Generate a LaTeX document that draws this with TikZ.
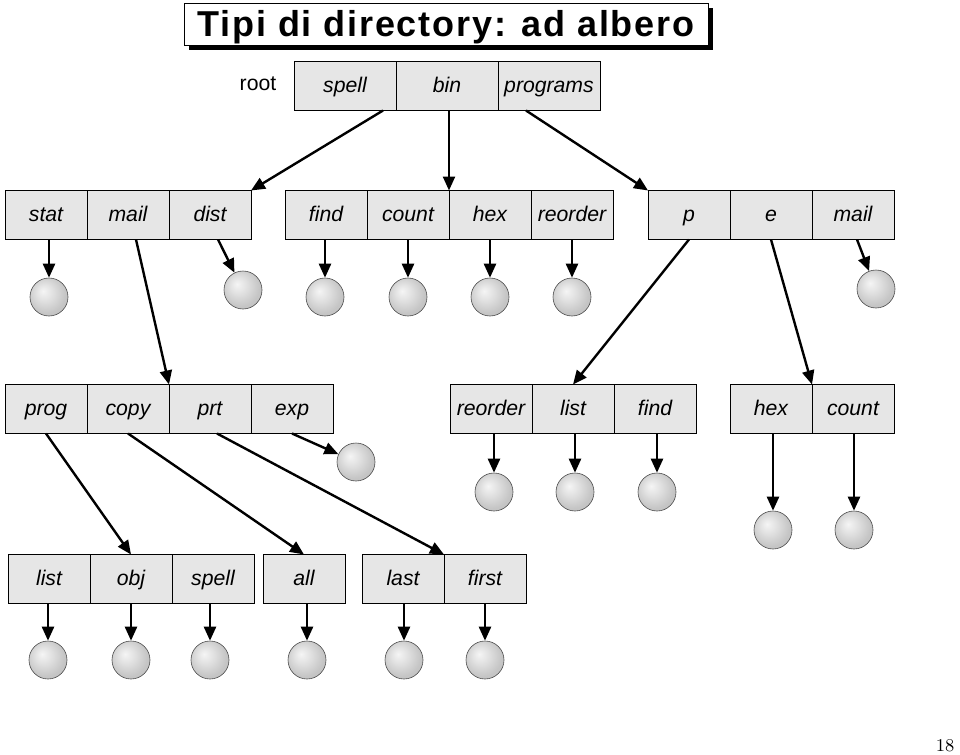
\documentclass[tikz,border=0pt]{standalone}
\usepackage{fontspec}
\setmainfont{Liberation Sans}
\newfontfamily\titlefont[LetterSpace=5]{Liberation Sans}
\newfontfamily\pagefont{Latin Modern Roman}
\usepackage{tikz}
\usetikzlibrary{arrows.meta, positioning, calc, shadows}
\definecolor{cellgray}{HTML}{E6E6E6}
\pgfdeclareradialshading{softball}{\pgfqpoint{-8bp}{8bp}}{color(0bp)=(gray!8); color(10bp)=(gray!22); color(25bp)=(gray!45); color(50bp)=(gray!60)}

\begin{document}
\begin{tikzpicture}[
  x=0.5pt, y=-0.5pt,
  cell/.style={draw, fill=cellgray, line width=0.5pt, outer sep=0pt, minimum width=41pt, minimum height=24.5pt, inner sep=0pt,
    text height=1.6ex, text depth=0.3ex, font=\fontsize{10.6}{12}\selectfont\itshape},
  rcell/.style={cell, minimum width=51pt},
  file/.style={circle, draw=gray!60!black, line width=0.3pt, shading=softball, minimum size=19pt, inner sep=0pt},
  ptr/.style={-{Triangle[length=7pt, width=6pt]}, line width=1.2pt},
]
  \useasboundingbox (0,0) rectangle (960,755);

  % titolo
  \node[draw, fill=white, line width=0.5pt, minimum width=262pt, minimum height=21pt, inner sep=0pt,
        text height=14pt, text depth=2pt,
        drop shadow={shadow xshift=2.5pt, shadow yshift=-2.5pt, opacity=1, fill=black},
        font=\titlefont\fontsize{18}{22}\selectfont\bfseries] (title) at (446,24) {Tipi di directory: ad albero};

  % radice
  \node[font=\fontsize{10.6}{12}\selectfont] (root) at (258,84) {root};
  \node[rcell, anchor=west] (rspell) at (294,86) {spell};
  \node[rcell, right=0pt of rspell] (rbin) {bin};
  \node[rcell, right=0pt of rbin] (rprograms) {programs};

  % secondo livello
  \node[cell, anchor=west] (stat) at (5,215) {stat};
  \node[cell, right=0pt of stat] (mail) {mail};
  \node[cell, right=0pt of mail] (dist) {dist};
  \node[cell, anchor=west] (find) at (285,215) {find};
  \node[cell, right=0pt of find] (count) {count};
  \node[cell, right=0pt of count] (hex) {hex};
  \node[cell, right=0pt of hex] (reorder) {reorder};
  \node[cell, anchor=west] (p) at (648,215) {p};
  \node[cell, right=0pt of p] (e) {e};
  \node[cell, right=0pt of e] (pmail) {mail};

  % terzo livello
  \node[cell, anchor=west] (mprog) at (5,409) {prog};
  \node[cell, right=0pt of mprog] (mcopy) {copy};
  \node[cell, right=0pt of mcopy] (mprt) {prt};
  \node[cell, right=0pt of mprt] (mexp) {exp};
  \node[cell, anchor=west] (preorder) at (450,409) {reorder};
  \node[cell, right=0pt of preorder] (plist) {list};
  \node[cell, right=0pt of plist] (pfind) {find};
  \node[cell, anchor=west] (ehex) at (730,409) {hex};
  \node[cell, right=0pt of ehex] (ecount) {count};

  % quarto livello
  \node[cell, anchor=west] (glist) at (8,579) {list};
  \node[cell, right=0pt of glist] (gobj) {obj};
  \node[cell, right=0pt of gobj] (gspell) {spell};
  \node[cell, anchor=west] (call) at (263,579) {all};
  \node[cell, anchor=west] (tlast) at (362,579) {last};
  \node[cell, right=0pt of tlast] (tfirst) {first};

  % file
  \node[file] (fstat) at (49,297) {};
  \node[file] (fdist) at (243,290) {};
  \node[file] (ffind) at (325,297) {};
  \node[file] (fcount) at (408,297) {};
  \node[file] (fhex) at (490,297) {};
  \node[file] (freorder) at (572,297) {};
  \node[file] (fpmail) at (876,289) {};
  \node[file] (fmexp) at (356,462) {};
  \node[file] (fpreorder) at (494,492) {};
  \node[file] (fplist) at (575,492) {};
  \node[file] (fpfind) at (657,492) {};
  \node[file] (fehex) at (773,530) {};
  \node[file] (fecount) at (854,530) {};
  \node[file] (fglist) at (48,660) {};
  \node[file] (fgobj) at (131,660) {};
  \node[file] (fgspell) at (210,660) {};
  \node[file] (fcall) at (307,660) {};
  \node[file] (ftlast) at (404,660) {};
  \node[file] (ftfirst) at (485,660) {};

  % puntatori
  \draw[ptr] ($(rspell.south east)+(-13,0)$) -- (dist.north east);
  \draw[ptr] (rbin.south -| count.east) -- (count.north east);
  \draw[ptr] ($(rprograms.south west)+(28,0)$) -- (p.north west);

  \draw[ptr] ($(mail.south)+(8,0)$) -- (mcopy.north east);
  \draw[ptr] ($(dist.south)+(8,0)$) -- (fdist);
  \draw[ptr] (p.south) -- (plist.north);
  \draw[ptr] (e.south) -- (ehex.north east);
  \draw[ptr] ($(pmail.south)+(4,0)$) -- (fpmail);
  \foreach \d in {stat, find, count, hex, reorder}
    \draw[ptr] (\d.south -| f\d) -- (f\d.north);

  \draw[ptr] (mprog.south) -- (gobj.north);
  \draw[ptr] (mcopy.south) -- (call.north);
  \draw[ptr] ($(mprt.south)+(7,0)$) -- (tlast.north east);
  \draw[ptr] (mexp.south) -- (fmexp);
  \foreach \d in {preorder, plist, pfind, ehex, ecount, glist, gobj, gspell, call, tlast, tfirst}
    \draw[ptr] (\d.south -| f\d) -- (f\d.north);

  % numero di pagina
  \node[font=\pagefont\fontsize{9}{11}\selectfont] (pagenum) at (945,746) {18};
\end{tikzpicture}
\end{document}
